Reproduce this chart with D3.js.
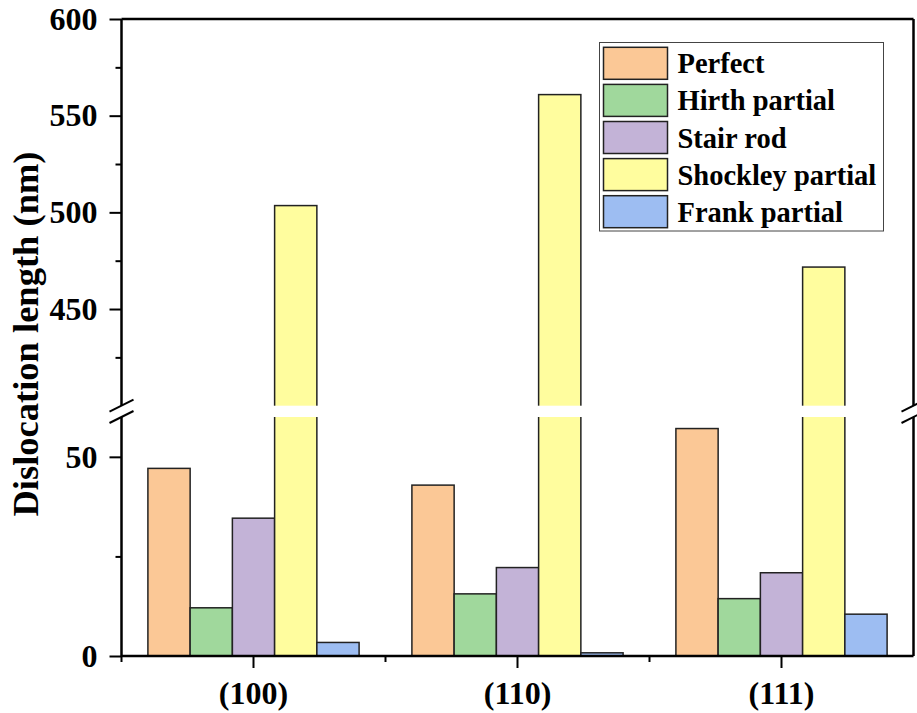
<!DOCTYPE html>
<html lang="en">
<head>
    <meta charset="UTF-8">
    <title>Dislocation length by orientation</title>
    <script src="https://d3js.org/d3.v7.min.js"></script>
    <style>
        body { margin: 0; background: #fff; }
        text { font-family: "Liberation Serif", "Times New Roman", serif; font-weight: bold; fill: #000; }
    </style>
</head>
<body>
    <script>
        const width = 917;
        const height = 713;

        // data
        const categories = ["(100)", "(110)", "(111)"];
        const seriesNames = ["Perfect", "Hirth partial", "Stair rod", "Shockley partial", "Frank partial"];
        const perfect = [47.1, 42.9, 57.1];
        const hirth = [12.1, 15.6, 14.4];
        const stairRod = [34.6, 22.2, 20.9];
        const shockley = [503.5, 560.9, 471.7];
        const frank = [3.4, 0.8, 10.5];
        const colors = ["#fbc896", "#a0d89c", "#c3b3d7", "#fffd9e", "#9dbdf2"];

        const lowerTicks = [0, 50];
        const lowerMinor = [25];
        const upperTicks = [450, 500, 550, 600];
        const upperMinor = [425, 475, 525, 575];

        const seriesValues = [perfect, hirth, stairRod, shockley, frank];

        const plotLeft = 121.5, plotRight = 913.5, plotTop = 19, plotBottom = 656;
        const breakLow = 417, breakHigh = 405.7;

        // broken y axis: two linear pieces
        const yLow = d3.scaleLinear().domain([0, 60]).range([plotBottom, breakLow]);
        const yHigh = d3.scaleLinear().domain([400, 600]).range([breakHigh, plotTop]);
        const y = v => v <= 60 ? yLow(v) : yHigh(v);

        const x0 = d3.scaleBand().domain(categories).range([plotLeft, plotRight]);
        const x1 = d3.scaleBand().domain(seriesNames)
            .range([0, x0.bandwidth() * 0.8]);
        const groupOffset = (x0.bandwidth() - x1.range()[1]) / 2;

        const svg = d3.select("body").append("svg")
            .attr("width", width)
            .attr("height", height);

        const rows = [];
        categories.forEach((c, i) => {
            seriesNames.forEach((s, j) => {
                rows.push({cat: c, series: s, value: seriesValues[j][i], color: colors[j]});
            });
        });

        svg.append("g")
            .selectAll("rect")
            .data(rows)
            .join("rect")
            .attr("x", d => x0(d.cat) + groupOffset + x1(d.series))
            .attr("y", d => y(d.value))
            .attr("width", x1.bandwidth())
            .attr("height", d => plotBottom - y(d.value))
            .attr("fill", d => d.color)
            .attr("stroke", "#222")
            .attr("stroke-width", 1.5);

        // white gap of the axis break
        svg.append("rect")
            .attr("x", plotLeft + 2)
            .attr("y", breakHigh)
            .attr("width", plotRight - plotLeft - 4)
            .attr("height", breakLow - breakHigh)
            .attr("fill", "#fff");

        // frame lines
        const axisStroke = 2.5;
        svg.append("line")
            .attr("x1", plotLeft).attr("x2", plotRight)
            .attr("y1", plotTop).attr("y2", plotTop)
            .attr("stroke", "#000").attr("stroke-width", axisStroke);
        [[plotTop, breakHigh], [breakLow, plotBottom]].forEach(([a, b]) => {
            svg.append("line")
                .attr("x1", plotRight).attr("x2", plotRight)
                .attr("y1", a).attr("y2", b)
                .attr("stroke", "#000").attr("stroke-width", axisStroke);
        });

        // left axis, lower and upper pieces
        function leftAxis(scale, major, minor) {
            const g = svg.append("g").attr("transform", `translate(${plotLeft},0)`);
            g.call(d3.axisLeft(scale).tickValues(major).tickSize(12).tickPadding(12).tickFormat(d3.format("d")));
            g.append("g").call(d3.axisLeft(scale).tickValues(minor).tickSize(6).tickFormat(""))
                .select(".domain").remove();
            g.selectAll("path, line").attr("stroke", "#000").attr("stroke-width", axisStroke);
            g.selectAll(".tick line").attr("stroke-width", 2);
            g.selectAll("text").attr("font-size", 32).attr("font-family", null).attr("fill", "#000");
            g.select(".domain").attr("d", `M0,${scale.range()[0]}V${scale.range()[1]}`);
        }
        leftAxis(yLow, lowerTicks, lowerMinor);
        leftAxis(yHigh, upperTicks, upperMinor);

        // break marks
        [plotLeft, plotRight].forEach(xx => {
            [breakHigh, breakLow].forEach(yy => {
                svg.append("line")
                    .attr("x1", xx - 12).attr("y1", yy + 6)
                    .attr("x2", xx + 12).attr("y2", yy - 6)
                    .attr("stroke", "#000").attr("stroke-width", 2);
            });
        });

        // bottom axis
        const xAxis = svg.append("g").attr("transform", `translate(0,${plotBottom})`);
        xAxis.call(d3.axisBottom(x0).tickSize(12).tickSizeOuter(0).tickFormat(""));
        xAxis.append("g").selectAll("line")
            .data(categories.slice(1))
            .join("line")
            .attr("x1", d => x0(d)).attr("x2", d => x0(d))
            .attr("y1", 0).attr("y2", 6);
        xAxis.append("line").attr("x1", plotLeft).attr("x2", plotLeft).attr("y1", 0).attr("y2", 6);
        xAxis.selectAll("path, line").attr("stroke", "#000").attr("stroke-width", 2);
        xAxis.select(".domain").attr("stroke-width", axisStroke).attr("d", `M${plotLeft},0H${plotRight}`);
        xAxis.selectAll(".tick").append("text")
            .attr("y", 48)
            .attr("text-anchor", "middle")
            .attr("font-size", 32)
            .text(d => d);

        // y title
        svg.append("text")
            .attr("transform", "translate(38,334) rotate(-90)")
            .attr("text-anchor", "middle")
            .attr("font-size", 36.5)
            .text("Dislocation length (nm)");

        // legend
        const legend = svg.append("g");
        legend.append("rect")
            .attr("x", 599.5).attr("y", 42.5)
            .attr("width", 284).attr("height", 188.5)
            .attr("fill", "#fff")
            .attr("stroke", "#444").attr("stroke-width", 1);
        const item = legend.selectAll("g.item")
            .data(seriesNames)
            .join("g")
            .attr("class", "item")
            .attr("transform", (d, i) => `translate(603.5,${47.3 + i * 37.1})`);
        item.append("rect")
            .attr("width", 64).attr("height", 32)
            .attr("fill", (d, i) => colors[i])
            .attr("stroke", "#222").attr("stroke-width", 1.5);
        item.append("text")
            .attr("x", 74).attr("y", 26)
            .attr("font-size", 28.5)
            .text(d => d);
    </script>
</body>
</html>
